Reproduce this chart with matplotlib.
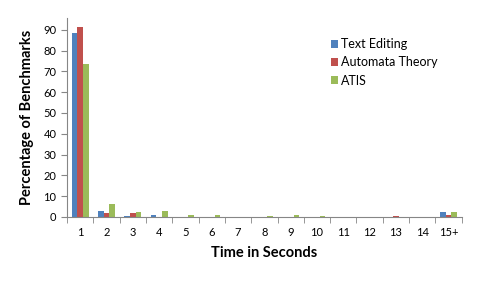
import numpy as np
import matplotlib.pyplot as plt

categories = ['1', '2', '3', '4', '5', '6', '7', '8', '9', '10', '11', '12', '13', '14', '15+']
text_editing = [88.6, 2.9, 0.5, 1.0, 0, 0, 0, 0, 0, 0, 0, 0, 0, 0, 2.6]
automata = [91.5, 2.1, 2.1, 0, 0, 0, 0, 0, 0, 0, 0, 0, 0.6, 0, 1.1]
atis = [73.5, 6.4, 2.6, 3.0, 1.1, 1.1, 0.2, 0.6, 1.1, 0.6, 0, 0, 0, 0, 2.6]

plt.rcParams['font.family'] = ['Lato', 'DejaVu Sans']

fig = plt.figure(figsize=(4.96, 2.81), dpi=100)
ax = fig.add_axes([0.135, 0.228, 0.796, 0.708])

x = np.arange(len(categories))
w = 0.215
ax.bar(x - w, text_editing, w, color='#4F81BD', label='Text Editing')
ax.bar(x, automata, w, color='#C0504D', label='Automata Theory')
ax.bar(x + w, atis, w, color='#9BBB59', label='ATIS')

ax.set_xlim(-0.5, len(categories) - 0.5)
ax.set_ylim(0, 95.7)
ax.set_yticks(range(0, 91, 10))
ax.set_xticks(x)
ax.set_xticklabels(categories)
ax.set_xticks(np.arange(-0.5, len(categories), 1), minor=True)
ax.tick_params(axis='x', which='major', length=0, labelsize=8, pad=7)
ax.tick_params(axis='x', which='minor', length=4, color='#868686', direction='out')
ax.tick_params(axis='y', length=4, color='#868686', labelsize=8)

for s in ['top', 'right']:
    ax.spines[s].set_visible(False)
for s in ['left', 'bottom']:
    ax.spines[s].set_color('#868686')

ax.set_xlabel('Time in Seconds', fontsize=10.5, fontweight='bold', labelpad=6)
ax.set_ylabel('Percentage of Benchmarks', fontsize=10.5, fontweight='bold', labelpad=7)

ax.legend(loc='upper left', bbox_to_anchor=(0.64, 0.955), frameon=False, fontsize=9,
          handlelength=0.6, handleheight=0.6, handletextpad=0.2, labelspacing=0.5)

fig.savefig('out.png', dpi=100)
